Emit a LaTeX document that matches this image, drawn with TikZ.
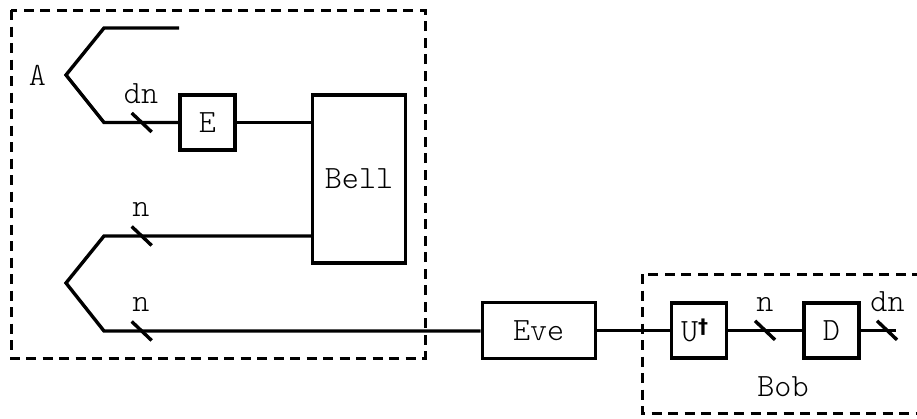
\documentclass[tikz,border=0pt]{standalone}
\usepackage{fontspec}
\setmonofont{Latin Modern Mono Light}
\newfontfamily\dagfont{DejaVu Sans}
\begin{document}
\begin{tikzpicture}[x=1pt,y=-1pt,
  wire/.style={line width=3.4pt},
  tick/.style={line width=3.4pt},
  gate/.style={draw,line width=3.4pt,inner sep=0pt,minimum width=55pt,minimum height=55pt,
    font=\ttfamily\fontsize{32.5}{35}\selectfont},
  lbl/.style={font=\ttfamily\fontsize{32.5}{35}\selectfont,inner sep=0pt,anchor=base},
  region/.style={draw,line width=3pt,dash pattern=on 10pt off 6.5pt}]
\useasboundingbox (0,0) rectangle (917,418);
\clip (0,0) rectangle (917,418);

% party regions
\draw[region] (11,10) rectangle (425,358);
\draw[region] (642,274) rectangle (940,413);

% gates
\node[gate] (E) at (207.5,122.5) {E};
\node[gate,minimum width=93pt,minimum height=168pt] (Bell) at (359,179) {Bell};
\node[gate,minimum width=113pt,minimum height=56pt] (Eve) at (538.7,330.3) {Eve};
\node[gate] (U) at (699.2,330.3) {\hspace*{-9pt}U\raisebox{8pt}{\dagfont\bfseries\fontsize{20}{20}\selectfont †}};
\node[gate] (D) at (831.5,330.3) {D};

% fork points of the two Alice registers
\coordinate (A1) at (66,75);
\coordinate (A1t) at (104,28);
\coordinate (A1e) at (179,28);
\coordinate (A1b) at (104,122.5);
\coordinate (A2) at (66,283);
\coordinate (A2t) at (104,236);
\coordinate (A2b) at (104,331);
\coordinate (out) at (896,330.3);

% wires
\draw[wire,line join=miter] (A1e) -- (A1t) -- (A1) -- (A1b) -- (E.west);
\draw[wire] (E.east) -- (E.east -| Bell.west);
\draw[wire,line join=miter] (A2t -| Bell.west) -- (A2t) -- (A2) -- (A2b) -- (A2b -| Eve.west);
\draw[wire] (Eve.east) -- (U.west);
\draw[wire] (U.east) -- (D.west);
\draw[wire] (D.east) -- (out);

% register-size ticks
\draw[tick] (141.7,122.5) ++(-10,-9.5) -- ++(20,19);
\draw[tick] (141.7,236) ++(-10,-9.5) -- ++(20,19);
\draw[tick] (141.7,331) ++(-10,-9.5) -- ++(20,19);
\draw[tick] (765,330.3) ++(-10,-9.5) -- ++(20,19);
\draw[tick] (887,330.3) ++(-10,-9.5) -- ++(20,19);

% labels
\node[lbl] (lA) at (37.5,85) {A};
\node[lbl] (l1) at (141,103.3) {dn};
\node[lbl] (l2) at (141,216.7) {n};
\node[lbl] (l3) at (141,311.7) {n};
\node[lbl] (l4) at (765,311.7) {n};
\node[lbl] (l5) at (887.5,311.7) {dn};
\node[lbl] (lB) at (783,396.7) {Bob};
\end{tikzpicture}
\end{document}
